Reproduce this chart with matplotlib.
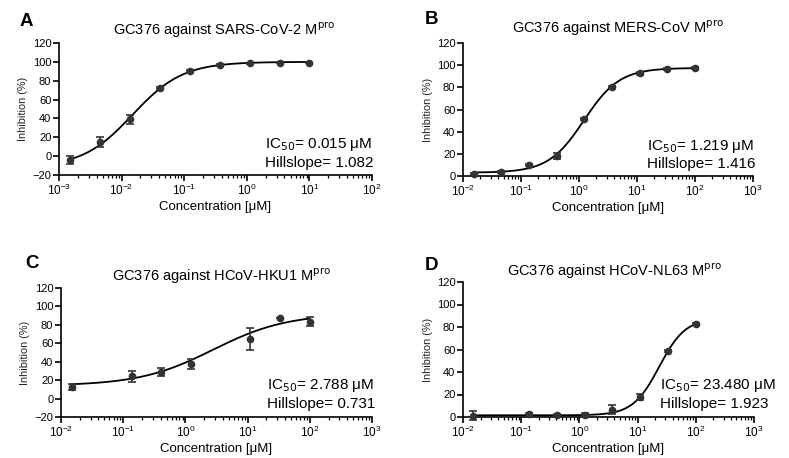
import numpy as np
import matplotlib.pyplot as plt
from matplotlib.ticker import LogLocator, FixedLocator, NullFormatter

plt.rcParams['font.family'] = ['Liberation Sans', 'DejaVu Sans']

# panel A: SARS-CoV-2
a_conc = [0.00152, 0.00457, 0.0137, 0.0412, 0.123, 0.370, 1.11, 3.33, 10.0]
a_inh = [-4.3, 15.3, 39.0, 72.5, 90.5, 96.5, 98.5, 99.2, 99.2]
a_err = [4.0, 5.5, 4.5, 1.0, 1.0, 1.0, 0.8, 0.8, 0.8]

# panel B: MERS-CoV
b_conc = [0.0152, 0.0457, 0.137, 0.412, 1.23, 3.70, 11.1, 33.3, 100.0]
b_inh = [1.5, 3.6, 10.2, 18.0, 51.5, 80.5, 92.5, 96.4, 97.3]
b_err = [0.8, 0.8, 1.0, 3.0, 1.0, 1.0, 1.0, 0.8, 0.8]

# panel C: HCoV-HKU1
c_conc = [0.0148, 0.137, 0.412, 1.23, 11.1, 33.3, 100.0]
c_inh = [12.7, 24.0, 28.5, 37.5, 65.0, 87.5, 83.5]
c_err = [3.5, 5.5, 4.5, 5.5, 12.0, 0.0, 4.5]

# panel D: HCoV-NL63
d_conc = [0.0148, 0.137, 0.412, 1.23, 3.70, 11.1, 33.3, 100.0]
d_inh = [1.2, 2.8, 1.8, 2.2, 6.5, 17.8, 59.0, 82.8]
d_err = [4.0, 0.8, 0.8, 1.2, 4.0, 2.5, 0.8, 0.8]

# fit parameters: IC50, hillslope, bottom, top
a_fit = (0.015, 1.082, -12.0, 100.0)
b_fit = (1.219, 1.416, 3.0, 97.5)
c_fit = (2.788, 0.731, 13.9, 92.2)
d_fit = (23.480, 1.923, 1.5, 87.8)

titles = ['GC376 against SARS-CoV-2 M$^{\\rm pro}$',
          'GC376 against MERS-CoV M$^{\\rm pro}$',
          'GC376 against HCoV-HKU1 M$^{\\rm pro}$',
          'GC376 against HCoV-NL63 M$^{\\rm pro}$']
letters = ['A', 'B', 'C', 'D']
ic50_text = ['IC$_{50}$= 0.015 μM\nHillslope= 1.082',
             'IC$_{50}$= 1.219 μM\nHillslope= 1.416',
             'IC$_{50}$= 2.788 μM\nHillslope= 0.731',
             'IC$_{50}$= 23.480 μM\nHillslope= 1.923']

W, H = 789, 458
# axes boxes in pixels: left, right, top, bottom
boxes = [(59, 372, 43, 175), (463, 753, 43, 176),
         (61, 372, 288, 417), (463, 754, 282, 417)]
xlims = [(1e-3, 1e2), (1e-2, 1e3), (1e-2, 1e3), (1e-2, 1e3)]
ylims = [(-20, 120), (0, 120), (-20, 120), (0, 120)]
letter_pos = [(20, 21), (425, 19), (25, 263), (425, 266)]
title_pos = [(224, 30), (618, 28), (222, 276), (615, 271)]
text_pos = [(0.658, 0.167), (0.634, 0.16), (0.662, 0.178), (0.677, 0.17)]

data = [(a_conc, a_inh, a_err, a_fit), (b_conc, b_inh, b_err, b_fit),
        (c_conc, c_inh, c_err, c_fit), (d_conc, d_inh, d_err, d_fit)]

fig = plt.figure(figsize=(W / 100, H / 100), dpi=100)
dark = '#333333'

for i, (conc, inh, err, fit) in enumerate(data):
    l, r, t, b = boxes[i]
    ax = fig.add_axes([l / W, 1 - b / H, (r - l) / W, (b - t) / H])
    ic50, hill, bot, top = fit
    xs = np.logspace(np.log10(conc[0]), np.log10(conc[-1]), 300)
    ys = bot + (top - bot) / (1 + (ic50 / xs) ** hill)
    ax.plot(xs, ys, color='black', lw=1.3, zorder=2)
    ax.errorbar(conc, inh, yerr=err, fmt='o', color=dark, ms=4.5,
                capsize=3, elinewidth=1.2, capthick=1.2, zorder=3, clip_on=False)
    ax.set_xscale('log')
    ax.set_xlim(*xlims[i])
    ax.set_ylim(*ylims[i])
    ax.yaxis.set_major_locator(FixedLocator(np.arange(ylims[i][0], 121, 20)))
    ax.xaxis.set_major_locator(LogLocator(base=10, numticks=10))
    ax.xaxis.set_minor_locator(LogLocator(base=10, subs=np.arange(2, 10), numticks=10))
    ax.xaxis.set_minor_formatter(NullFormatter())
    ax.spines['top'].set_visible(False)
    ax.spines['right'].set_visible(False)
    ax.spines['left'].set_linewidth(1.2)
    ax.spines['bottom'].set_linewidth(1.2)
    ax.tick_params(axis='y', which='major', labelsize=8, width=1.2, length=4, pad=1.5)
    ax.tick_params(axis='x', which='major', labelsize=8.5, width=1.2, length=4, pad=1.5)
    ax.tick_params(axis='x', which='minor', width=0.9, length=2.5)
    ax.set_xlabel('Concentration [μM]', fontsize=9.5, labelpad=2)
    ax.set_ylabel('Inhibition (%)', fontsize=7.8, labelpad=3, color='#222222')
    ax.text(text_pos[i][0], text_pos[i][1], ic50_text[i], transform=ax.transAxes,
            fontsize=11, ha='left', va='center', linespacing=1.2)
    fig.text(title_pos[i][0] / W, 1 - title_pos[i][1] / H, titles[i],
             fontsize=10.5, ha='center', va='center')
    fig.text(letter_pos[i][0] / W, 1 - letter_pos[i][1] / H, letters[i],
             fontsize=13.5, fontweight='bold', ha='left', va='center')

fig.savefig('out.png', dpi=100)
plt.close()
